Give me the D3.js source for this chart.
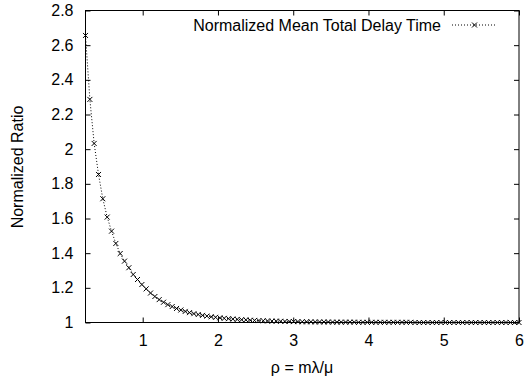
<!DOCTYPE html>
<html>
<head>
<meta charset="utf-8">
<script src="https://cdn.jsdelivr.net/npm/d3@7/dist/d3.min.js"></script>
<style>
  body { margin: 0; background: #fff; }
  svg text { font-family: "Liberation Sans", Arial, Helvetica, sans-serif; font-size: 16px; fill: #000; }
</style>
</head>
<body>
<svg id="chart" width="525" height="380"></svg>
<script>
// sample points of rho
const rho = [
  0.240, 0.298, 0.355, 0.413, 0.470, 0.528, 0.586, 0.643, 0.701, 0.758,
  0.816, 0.874, 0.931, 0.989, 1.046, 1.104, 1.162, 1.219, 1.277, 1.334,
  1.392, 1.450, 1.507, 1.565, 1.622, 1.680, 1.738, 1.795, 1.853, 1.910,
  1.968, 2.026, 2.083, 2.141, 2.198, 2.256, 2.314, 2.371, 2.429, 2.486,
  2.544, 2.602, 2.659, 2.717, 2.774, 2.832, 2.890, 2.947, 3.005, 3.062,
  3.120, 3.178, 3.235, 3.293, 3.350, 3.408, 3.466, 3.523, 3.581, 3.638,
  3.696, 3.754, 3.811, 3.869, 3.926, 3.984, 4.042, 4.099, 4.157, 4.214,
  4.272, 4.330, 4.387, 4.445, 4.502, 4.560, 4.618, 4.675, 4.733, 4.790,
  4.848, 4.906, 4.963, 5.021, 5.078, 5.136, 5.194, 5.251, 5.309, 5.366,
  5.424, 5.482, 5.539, 5.597, 5.654, 5.712, 5.770, 5.827, 5.885, 5.942,
  6.000
];

// normalized mean total delay time
const delayRatio = [
  2.656, 2.287, 2.033, 1.854, 1.714, 1.608, 1.527, 1.456, 1.398, 1.354,
  1.316, 1.277, 1.248, 1.219, 1.194, 1.170, 1.150, 1.132, 1.117, 1.103,
  1.092, 1.081, 1.072, 1.064, 1.057, 1.051, 1.046, 1.041, 1.037, 1.033,
  1.030, 1.027, 1.024, 1.022, 1.020, 1.018, 1.016, 1.015, 1.013, 1.012,
  1.011, 1.010, 1.009, 1.008, 1.008, 1.007, 1.006, 1.006, 1.005, 1.005,
  1.004, 1.004, 1.004, 1.003, 1.003, 1.003, 1.003, 1.002, 1.002, 1.002,
  1.002, 1.002, 1.002, 1.001, 1.001, 1.001, 1.001, 1.001, 1.001, 1.001,
  1.001, 1.001, 1.001, 1.001, 1.001, 1.001, 1.000, 1.000, 1.000, 1.000,
  1.000, 1.000, 1.000, 1.000, 1.000, 1.000, 1.000, 1.000, 1.000, 1.000,
  1.000, 1.000, 1.000, 1.000, 1.000, 1.000, 1.000, 1.000, 1.000, 1.000,
  1.000
];

const xTicks = [1, 2, 3, 4, 5, 6];
const yTicks = [1, 1.2, 1.4, 1.6, 1.8, 2, 2.2, 2.4, 2.6, 2.8];
const seriesName = 'Normalized Mean Total Delay Time';

const margin = { left: 85.5, right: 6, top: 10.5, bottom: 57.5 };
const width = 525, height = 380;
const tickLen = 5;

const svg = d3.select('#chart');
const x = d3.scaleLinear().domain([0.24, 6]).range([margin.left, width - margin.right]);
const y = d3.scaleLinear().domain([1, 2.8]).range([height - margin.bottom, margin.top]);

const fmt = d => String(d);

// axes with gnuplot style inward ticks on all four sides
svg.append('g')
  .attr('transform', `translate(0,${y.range()[0]})`)
  .call(d3.axisBottom(x).tickValues(xTicks).tickFormat(fmt).tickSizeInner(-tickLen).tickSizeOuter(0).tickPadding(12))
  .call(g => g.select('.domain').remove());
svg.append('g')
  .attr('transform', `translate(0,${y.range()[1]})`)
  .call(d3.axisTop(x).tickValues(xTicks).tickFormat('').tickSizeInner(-tickLen).tickSizeOuter(0))
  .call(g => g.select('.domain').remove());
svg.append('g')
  .attr('transform', `translate(${x.range()[0]},0)`)
  .call(d3.axisLeft(y).tickValues(yTicks).tickFormat(fmt).tickSizeInner(-tickLen).tickSizeOuter(0).tickPadding(12))
  .call(g => g.select('.domain').remove());
svg.append('g')
  .attr('transform', `translate(${x.range()[1]},0)`)
  .call(d3.axisRight(y).tickValues(yTicks).tickFormat('').tickSizeInner(-tickLen).tickSizeOuter(0))
  .call(g => g.select('.domain').remove());

svg.selectAll('.tick text').attr('font-size', 16).attr('font-family', null);
svg.selectAll('.tick line').attr('stroke', '#000');

// border
svg.append('rect')
  .attr('x', x.range()[0]).attr('y', y.range()[1])
  .attr('width', x.range()[1] - x.range()[0])
  .attr('height', y.range()[0] - y.range()[1])
  .attr('fill', 'none').attr('stroke', '#000').attr('stroke-width', 1);

// series
const pts = rho.map((r, i) => [r, delayRatio[i]]);
const line = d3.line().x(d => x(d[0])).y(d => y(d[1]));

svg.append('path')
  .datum(pts)
  .attr('d', line)
  .attr('fill', 'none')
  .attr('stroke', '#000')
  .attr('stroke-width', 1)
  .attr('stroke-dasharray', '1,2');

const cross = (sel, s) => sel.append('path')
  .attr('d', `M${-s},${-s}L${s},${s}M${-s},${s}L${s},${-s}`)
  .attr('stroke', '#000').attr('stroke-width', 1).attr('fill', 'none');

svg.append('g').selectAll('g')
  .data(pts)
  .join('g')
  .attr('transform', d => `translate(${x(d[0])},${y(d[1])})`)
  .each(function () { cross(d3.select(this), 2.5); });

// legend
const lg = svg.append('g').attr('transform', 'translate(0,25)');
lg.append('text').attr('x', 441).attr('y', 0).attr('dy', '0.35em').attr('text-anchor', 'end')
  .attr('font-size', 16.4).text(seriesName);
lg.append('line').attr('x1', 452).attr('x2', 497).attr('y1', 0).attr('y2', 0)
  .attr('stroke', '#000').attr('stroke-dasharray', '1,2');
cross(lg.append('g').attr('transform', 'translate(474.5,0)'), 2.5);

// axis titles
svg.append('text')
  .attr('x', 302).attr('y', 373)
  .attr('text-anchor', 'middle')
  .text('ρ = mλ/μ');
svg.append('text')
  .attr('transform', 'translate(23,167) rotate(-90)')
  .attr('text-anchor', 'middle')
  .text('Normalized Ratio');
</script>
</body>
</html>
